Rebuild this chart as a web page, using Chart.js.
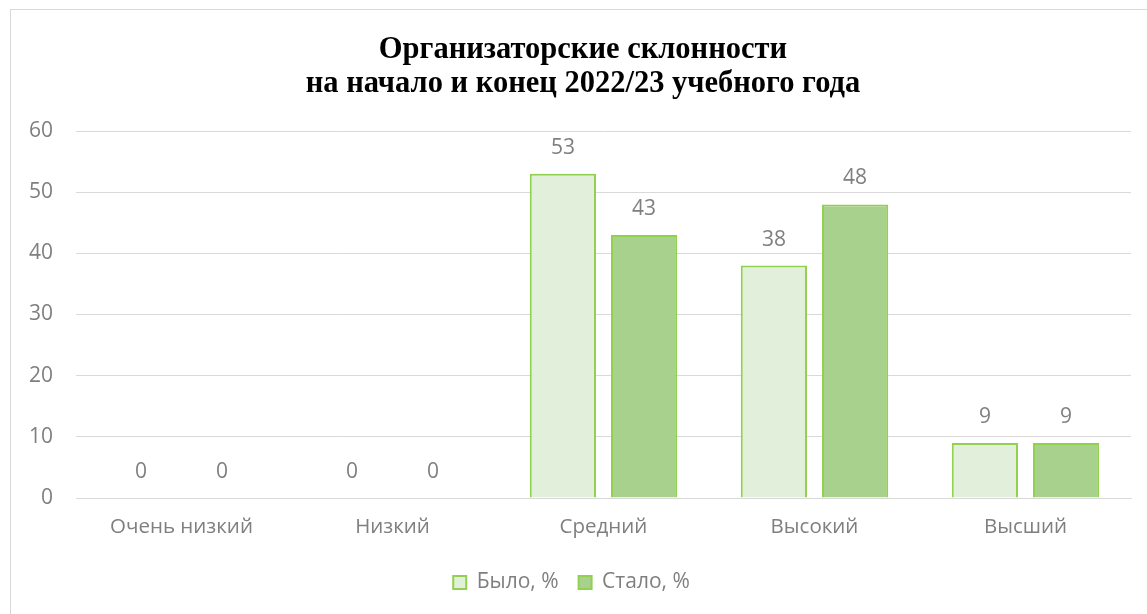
<!DOCTYPE html>
<html>
<head>
<meta charset="utf-8">
<script src="https://cdn.jsdelivr.net/npm/chart.js@4/dist/chart.umd.min.js"></script>
<style>
    html, body { margin: 0; padding: 0; background: #fff; overflow: hidden; }
    #frame {
        position: absolute;
        left: 10px;
        top: 9px;
        width: 1150px;
        height: 620px;
        border: 1px solid #d9d9d9;
        box-sizing: border-box;
    }
    #wrap { position: absolute; left: 1px; top: 1px; width: 1140px; height: 605px; }
    #title {
        position: absolute;
        left: 0;
        top: 31px;
        width: 1166px;
        text-align: center;
        font: bold 30.5px/34px "Liberation Serif", "Times New Roman", serif;
        color: #000;
    }
</style>
</head>
<body>
<div id="frame"><div id="wrap"><canvas id="chart"></canvas></div></div>
<div id="title">Организаторские склонности<br>на начало и конец 2022/23 учебного года</div>
<script>
const categories = ['Очень низкий', 'Низкий', 'Средний', 'Высокий', 'Высший'];
const wasValues = [0, 0, 53, 38, 9];
const becameValues = [0, 0, 43, 48, 9];
const seriesNames = ['Было, %', 'Стало, %'];
const yTicks = [0, 10, 20, 30, 40, 50, 60];

const textGray = '#7f7f7f';
const sansFont = '"Open Sans", "Noto Sans", sans-serif';

const valueLabels = {
    id: 'valueLabels',
    afterDatasetsDraw(chart) {
        const { ctx } = chart;
        ctx.save();
        ctx.font = `21px ${sansFont}`;
        ctx.fillStyle = textGray;
        ctx.textAlign = 'center';
        ctx.textBaseline = 'middle';
        chart.data.datasets.forEach((ds, i) => {
            chart.getDatasetMeta(i).data.forEach((bar, j) => {
                ctx.fillText(String(ds.data[j]), bar.x, bar.y - 26);
            });
        });
        ctx.restore();
    },
};

new Chart(document.getElementById('chart'), {
    type: 'bar',
    data: {
        labels: categories,
        datasets: [{
            label: seriesNames[0],
            data: wasValues,
            backgroundColor: '#e2efda',
            borderColor: '#92d050',
            borderWidth: 2,
        }, {
            label: seriesNames[1],
            data: becameValues,
            backgroundColor: '#a9d18e',
            borderColor: '#92d050',
            borderWidth: 2,
        }],
    },
    options: {
        responsive: true,
        maintainAspectRatio: false,
        animation: false,
        categoryPercentage: 0.77,
        barPercentage: 0.815,
        // title is the html block above the canvas, so the top padding leaves room for it
        layout: { padding: { left: 0, right: 21, top: 120, bottom: 13 } },
        scales: {
            x: {
                grid: { display: false, drawTicks: false },
                border: { color: '#d9d9d9', width: 1 },
                afterFit: (scale) => { scale.height = 54; },
                ticks: {
                    color: textGray,
                    font: { size: 20.5, family: sansFont },
                    padding: 17,
                },
            },
            y: {
                min: 0,
                max: 60,
                afterFit: (scale) => { scale.width = 64; },
                afterBuildTicks: (scale) => { scale.ticks = yTicks.map((v) => ({ value: v })); },
                grid: { color: '#d9d9d9', lineWidth: 1, drawTicks: false },
                border: { display: false },
                ticks: {
                    color: textGray,
                    font: { size: 21, family: sansFont },
                    padding: 23,
                },
            },
        },
        plugins: {
            title: { display: false },
            legend: {
                position: 'bottom',
                labels: {
                    boxWidth: 13,
                    boxHeight: 13,
                    color: textGray,
                    font: { size: 21, family: sansFont },
                    padding: 20,
                },
            },
            tooltip: { enabled: false },
        },
    },
    plugins: [valueLabels],
});
</script>
</body>
</html>
